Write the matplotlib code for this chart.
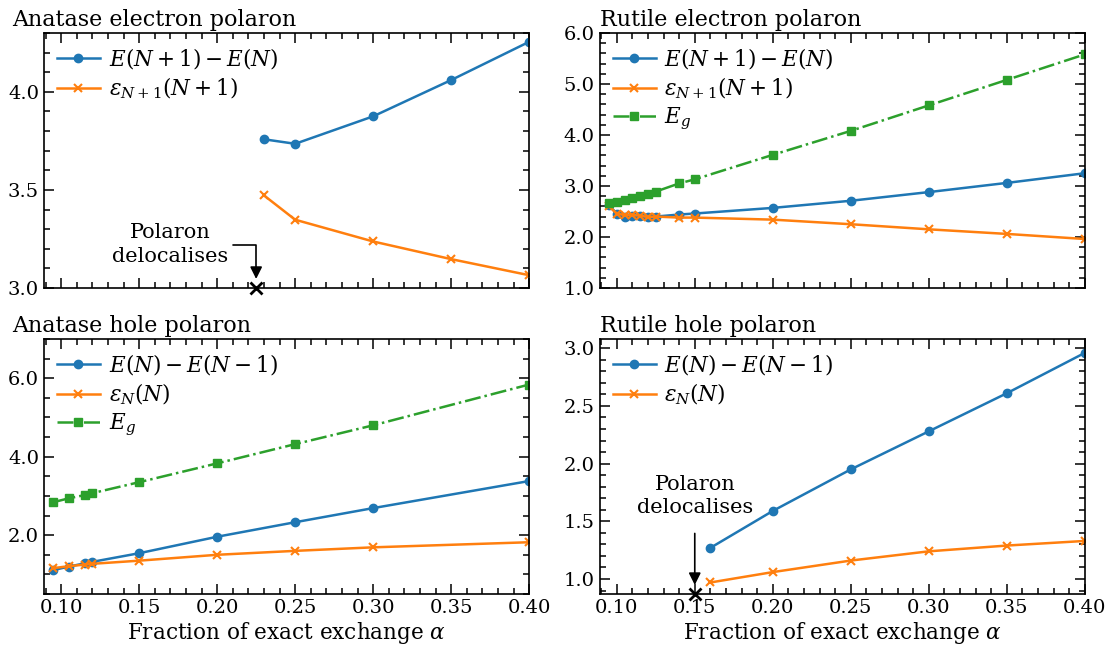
import matplotlib
matplotlib.use("Agg")
import matplotlib.pyplot as plt
from matplotlib.ticker import MultipleLocator

plt.rcParams['font.family'] = ['DejaVu Serif']
plt.rcParams['mathtext.fontset'] = 'dejavuserif'

# anatase electron polaron
ae_alpha = [0.23, 0.25, 0.30, 0.35, 0.40]
ae_ediff = [3.758, 3.735, 3.875, 4.060, 4.255]
ae_eig = [3.472, 3.348, 3.237, 3.147, 3.065]
ae_deloc = 0.225

# rutile electron polaron
re_alpha = [0.095, 0.10, 0.105, 0.11, 0.115, 0.12, 0.125, 0.14, 0.15, 0.20, 0.25, 0.30, 0.35, 0.40]
re_ediff = [2.62, 2.46, 2.40, 2.42, 2.41, 2.39, 2.40, 2.44, 2.46, 2.57, 2.71, 2.88, 3.06, 3.25]
re_eig = [2.60, 2.46, 2.43, 2.43, 2.42, 2.39, 2.40, 2.38, 2.38, 2.34, 2.25, 2.15, 2.06, 1.96]
re_gap = [2.66, 2.69, 2.72, 2.76, 2.80, 2.84, 2.89, 3.05, 3.13, 3.61, 4.08, 4.58, 5.08, 5.58]

# anatase hole polaron
ah_alpha = [0.095, 0.105, 0.115, 0.12, 0.15, 0.20, 0.25, 0.30, 0.40]
ah_ediff = [1.11, 1.20, 1.28, 1.32, 1.54, 1.96, 2.33, 2.69, 3.38]
ah_eig = [1.16, 1.21, 1.25, 1.27, 1.35, 1.50, 1.60, 1.69, 1.82]
ah_gap = [2.84, 2.94, 3.02, 3.07, 3.35, 3.83, 4.32, 4.80, 5.84]

# rutile hole polaron
rh_alpha = [0.16, 0.20, 0.25, 0.30, 0.35, 0.40]
rh_ediff = [1.27, 1.59, 1.95, 2.28, 2.61, 2.96]
rh_eig = [0.97, 1.06, 1.16, 1.24, 1.29, 1.33]
rh_deloc = 0.15

blue = '#1f77b4'
orange = '#ff7f0e'
green = '#2ca02c'

fig, axs = plt.subplots(2, 2, figsize=(11.07, 6.59), dpi=100)
plt.subplots_adjust(left=0.0397, right=0.980, top=0.950, bottom=0.0986, wspace=0.145, hspace=0.20)

lab_e = r'$E(N+1) - E(N)$'
lab_eig_e = r'$\varepsilon_{N+1}(N+1)$'
lab_h = r'$E(N) - E(N-1)$'
lab_eig_h = r'$\varepsilon_N(N)$'
lab_gap = r'$E_g$'

ax = axs[0, 0]
ax.plot(ae_alpha, ae_ediff, '-o', color=blue, lw=1.8, ms=6, label=lab_e)
ax.plot(ae_alpha, ae_eig, '-x', color=orange, lw=1.8, ms=6, mew=1.5, label=lab_eig_e)
ax.set_ylim(3.0, 4.3)
ax.yaxis.set_major_locator(MultipleLocator(0.5))
ax.yaxis.set_minor_locator(MultipleLocator(0.1))
ax.plot([ae_deloc], [3.0], 'x', color='black', ms=8, mew=2, clip_on=False, zorder=10)
ax.text(0.170, 3.221, 'Polaron\ndelocalises', ha='center', va='center', fontsize=15, linespacing=1.3)
ax.annotate('', xy=(ae_deloc, 3.0), xytext=(0.2101, 3.219),
            arrowprops=dict(arrowstyle='-|>', color='black', lw=1.2, mutation_scale=18,
                            connectionstyle='angle,angleA=0,angleB=90,rad=0',
                            shrinkA=0, shrinkB=6.5))
ax.set_title('Anatase electron polaron', loc='left', x=-0.066, fontsize=16, pad=5)

ax = axs[0, 1]
ax.plot(re_alpha, re_ediff, '-o', color=blue, lw=1.8, ms=6, label=lab_e)
ax.plot(re_alpha, re_eig, '-x', color=orange, lw=1.8, ms=6, mew=1.5, label=lab_eig_e)
ax.plot(re_alpha, re_gap, '-.s', color=green, lw=1.8, ms=6, label=lab_gap)
ax.set_ylim(1.0, 6.0)
ax.yaxis.set_major_locator(MultipleLocator(1.0))
ax.yaxis.set_minor_locator(MultipleLocator(0.2))
ax.set_title('Rutile electron polaron', loc='left', x=0.0, fontsize=16, pad=5)

ax = axs[1, 0]
ax.plot(ah_alpha, ah_ediff, '-o', color=blue, lw=1.8, ms=6, label=lab_h)
ax.plot(ah_alpha, ah_eig, '-x', color=orange, lw=1.8, ms=6, mew=1.5, label=lab_eig_h)
ax.plot(ah_alpha, ah_gap, '-.s', color=green, lw=1.8, ms=6, label=lab_gap)
ax.set_ylim(0.5, 7.0)
ax.yaxis.set_major_locator(MultipleLocator(2.0))
ax.yaxis.set_minor_locator(MultipleLocator(0.5))
ax.set_title('Anatase hole polaron', loc='left', x=-0.066, fontsize=16, pad=5)

ax = axs[1, 1]
ax.plot(rh_alpha, rh_ediff, '-o', color=blue, lw=1.8, ms=6, label=lab_h)
ax.plot(rh_alpha, rh_eig, '-x', color=orange, lw=1.8, ms=6, mew=1.5, label=lab_eig_h)
ax.set_ylim(0.87, 3.08)
ax.yaxis.set_major_locator(MultipleLocator(0.5))
ax.yaxis.set_minor_locator(MultipleLocator(0.1))
ax.plot([rh_deloc], [0.87], 'x', color='black', ms=8, mew=2, clip_on=False, zorder=10)
ax.text(rh_deloc, 1.72, 'Polaron\ndelocalises', ha='center', va='center', fontsize=15, linespacing=1.3)
ax.annotate('', xy=(rh_deloc, 0.87), xytext=(rh_deloc, 1.395),
            arrowprops=dict(arrowstyle='-|>', color='black', lw=1.2, mutation_scale=18,
                            shrinkA=0, shrinkB=6.5))
ax.set_title('Rutile hole polaron', loc='left', x=0.0, fontsize=16, pad=5)

for i, ax in enumerate(axs.flat):
    ax.set_xlim(0.089, 0.40)
    ax.xaxis.set_major_locator(MultipleLocator(0.05))
    ax.xaxis.set_minor_locator(MultipleLocator(0.01))
    ax.xaxis.set_major_formatter(plt.FormatStrFormatter('%.2f'))
    ax.yaxis.set_major_formatter(plt.FormatStrFormatter('%.1f'))
    ax.tick_params(which='both', direction='in', top=True, right=True, labelsize=14, width=1.1)
    ax.tick_params(which='major', length=7)
    ax.tick_params(which='minor', length=4)
    for s in ax.spines.values():
        s.set_linewidth(1.2)
    ax.legend(loc='upper left', frameon=False, fontsize=15.5, handlelength=2.0,
              handletextpad=0.4, borderaxespad=0.2, labelspacing=0.22)
    if i < 2:
        ax.tick_params(labelbottom=False)
    else:
        ax.set_xlabel(r'Fraction of exact exchange $\alpha$', fontsize=15.5, labelpad=2)

fig.savefig('out.png', dpi=100)
